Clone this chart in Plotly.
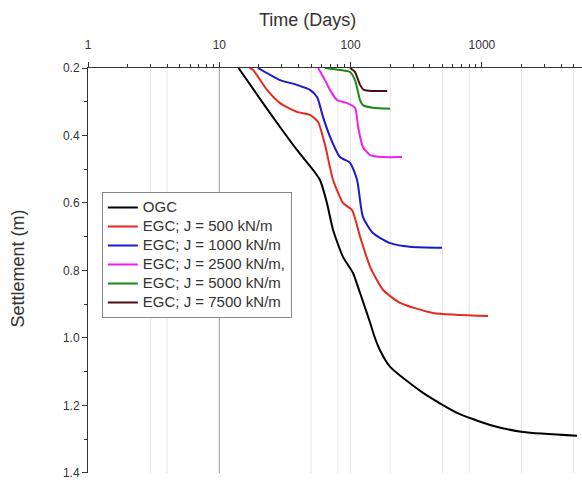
import plotly.graph_objects as go

# ---- data (time in days, settlement in m) ----
t_ogc = [14, 21.5, 29, 39, 51.7, 58.4, 66, 73.5, 87.5, 104, 118, 141, 150, 167, 200, 356, 646, 1153, 2056, 5300]
s_ogc = [0.2, 0.304, 0.375, 0.443, 0.502, 0.532, 0.60, 0.68, 0.76, 0.807, 0.867, 0.956, 0.99, 1.036, 1.086, 1.163, 1.222, 1.258, 1.279, 1.290]

t_500 = [17, 18.1, 23.1, 29, 39, 49, 56.5, 64, 73.5, 87.5, 102.5, 118, 141, 177, 238, 424, 1113]
s_500 = [0.2, 0.206, 0.265, 0.304, 0.330, 0.339, 0.360, 0.43, 0.532, 0.60, 0.621, 0.70, 0.79, 0.858, 0.896, 0.926, 0.935]

t_1000 = [19.7, 29, 39, 49, 55.5, 61.6, 69.7, 83, 99, 112, 124, 148, 200, 283, 497]
s_1000 = [0.2, 0.236, 0.250, 0.265, 0.286, 0.345, 0.404, 0.464, 0.481, 0.532, 0.641, 0.689, 0.719, 0.730, 0.733]

t_2500 = [56.5, 63.8, 69.7, 78.8, 94, 108, 114, 124, 141, 177, 246]
s_2500 = [0.2, 0.236, 0.265, 0.295, 0.304, 0.318, 0.375, 0.434, 0.458, 0.464, 0.464]

t_5000 = [64, 83, 99, 108, 118, 124, 148, 200]
s_5000 = [0.2, 0.206, 0.212, 0.236, 0.295, 0.31, 0.318, 0.321]

t_7500 = [99, 108, 118, 126, 148, 190]
s_7500 = [0.2, 0.212, 0.25, 0.265, 0.268, 0.268]

names = ["OGC", "EGC; J = 500 kN/m", "EGC; J = 1000 kN/m", "EGC; J = 2500 kN/m,",
         "EGC; J = 5000 kN/m", "EGC; J = 7500 kN/m"]
colors = ["#000000", "#e8281f", "#1a1acc", "#f01ef0", "#178a17", "#4a0f12"]

x_major = [1, 10, 100, 1000]
x_major_text = ["1", "10", "100", "1000"]
x_minor = [m * d for d in [1, 10, 100, 1000] for m in range(2, 10) if m * d < 5800]
y_major = [0.2, 0.4, 0.6, 0.8, 1.0, 1.2, 1.4]
y_minor = [0.3, 0.5, 0.7, 0.9, 1.1, 1.3]
grid_x = [3, 4, 50, 80, 100, 200, 500, 800, 2000, 5000]
grid_x_dark = [10]

series = [(t_ogc, s_ogc), (t_500, s_500), (t_1000, s_1000),
          (t_2500, s_2500), (t_5000, s_5000), (t_7500, s_7500)]

fig = go.Figure()
for (t, s), n, c in zip(series, names, colors):
    fig.add_trace(go.Scatter(x=t, y=s, mode="lines",
                             name='<span style="font-size:15px">' + n + '</span>',
                             line=dict(color=c, width=2, shape="spline", smoothing=0.6)))

shapes = []
for g in grid_x:
    shapes.append(dict(type="line", xref="x", yref="paper", x0=g, x1=g, y0=0, y1=1,
                       line=dict(color="#e6e6e6", width=1), layer="below"))
for g in grid_x_dark:
    shapes.append(dict(type="line", xref="x", yref="paper", x0=g, x1=g, y0=0, y1=1,
                       line=dict(color="#9a9a9a", width=1), layer="below"))

fig.update_layout(
    width=582, height=480,
    margin=dict(l=88, r=0, t=68, b=7),
    paper_bgcolor="white", plot_bgcolor="white",
    font=dict(family="Liberation Sans, Arial", size=12, color="#333333"),
    shapes=shapes,
    showlegend=True,
    legend=dict(x=0.028, y=0.694, xanchor="left", yanchor="top",
                bgcolor="white", bordercolor="#888888", borderwidth=1,
                font=dict(size=12, color="#333333"), tracegroupgap=0,
                itemwidth=30),
    xaxis=dict(type="log", side="top", range=[0, 3.762],
               showline=True, linecolor="#333333", linewidth=1,
               showgrid=False, zeroline=False,
               ticks="outside", ticklen=5, tickcolor="#333333",
               tickmode="array", tickvals=x_major, ticktext=x_major_text,
               ticklabelstandoff=8, tickfont=dict(size=12),
               ticklabeloverflow="allow",
               minor=dict(tickmode="array", tickvals=x_minor, ticks="outside",
                          ticklen=3, tickcolor="#333333", showgrid=False)),
    yaxis=dict(range=[1.4005, 0.2], showline=True, linecolor="#333333", linewidth=1,
               showgrid=False, zeroline=False,
               ticks="outside", ticklen=5, tickcolor="#333333",
               tickmode="array", tickvals=y_major,
               ticktext=[f"{v:.1f}" for v in y_major], tickfont=dict(size=12),
               ticklabeloverflow="allow",
               minor=dict(tickmode="array", tickvals=y_minor, ticks="outside",
                          ticklen=3, tickcolor="#333333", showgrid=False)),
    annotations=[
        dict(text="Time (Days)", xref="paper", yref="paper", x=0.445, y=1.1185,
             xanchor="center", yanchor="middle", showarrow=False,
             font=dict(size=18, color="#333333")),
        dict(text="Settlement (m)", xref="paper", yref="paper", x=-0.1417, y=0.505,
             xanchor="center", yanchor="middle", showarrow=False, textangle=-90,
             font=dict(size=18, color="#333333")),
    ],
)

fig.write_html("out.html")
